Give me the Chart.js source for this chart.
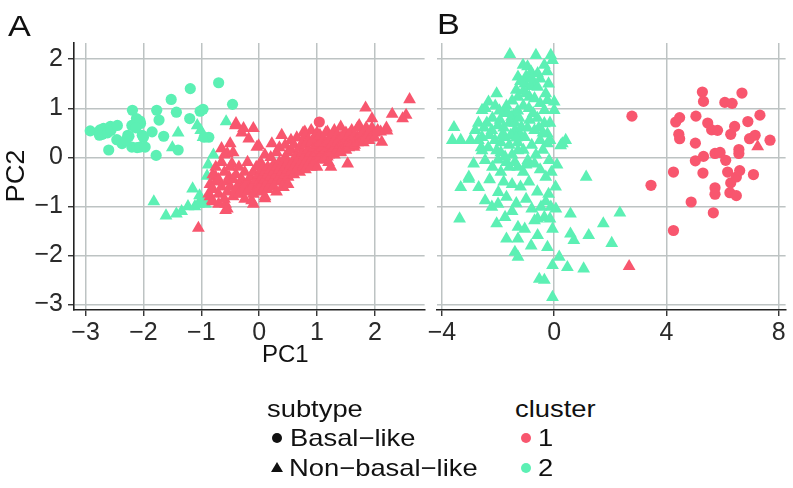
<!DOCTYPE html>
<html><head><meta charset="utf-8">
<script src="https://cdn.jsdelivr.net/npm/chart.js@4/dist/chart.umd.min.js"></script>
<style>
body{margin:0;background:#fff;width:793px;height:488px;overflow:hidden;position:relative;font-family:'Liberation Sans',Arial,sans-serif;color:#111}
canvas{position:absolute;top:0}
#ca{left:0;width:432px;height:345px}
#cb{left:420px;width:373px;height:345px}
.t{position:absolute;white-space:nowrap;line-height:1;transform-origin:0 50%;transform:scaleX(1.14)}
.dot{position:absolute;width:10px;height:10px;border-radius:50%}
.tri{position:absolute;width:0;height:0;border-left:6px solid transparent;border-right:6px solid transparent;border-bottom:10px solid #111}
</style></head><body>
<canvas id="ca" width="432" height="345"></canvas>
<canvas id="cb" width="373" height="345"></canvas>

<div class="t" style="left:8px;top:11px;font-size:30px">A</div>
<div class="t" style="left:437px;top:9px;font-size:30px">B</div>
<div class="t" style="left:262px;top:342px;font-size:24px;transform:none">PC1</div>
<div style="position:absolute;left:15px;top:176px;font-size:26px;line-height:1;white-space:nowrap;transform:translate(-50%,-50%) rotate(-90deg) scaleX(1.05)">PC2</div>

<div class="t" style="left:267px;top:397px;font-size:24px">subtype</div>
<div class="dot" style="left:272px;top:433px;background:#111"></div>
<div class="t" style="left:290px;top:426px;font-size:24px">Basal−like</div>
<div class="tri" style="left:271px;top:462px"></div>
<div class="t" style="left:289px;top:456px;font-size:24px">Non−basal−like</div>
<div class="t" style="left:515px;top:397px;font-size:24px">cluster</div>
<div class="dot" style="left:521px;top:433px;background:#F8566E"></div>
<div class="t" style="left:538px;top:426px;font-size:24px">1</div>
<div class="dot" style="left:521px;top:463px;background:#5CF0B4"></div>
<div class="t" style="left:538px;top:456px;font-size:24px">2</div>

<script>
// ---- tick values ----
const yTicks = [-3, -2, -1, 0, 1, 2];
const xTicksA = [-3, -2, -1, 0, 1, 2];
const xTicksB = [-4, 0, 4, 8];

// ---- cluster colours ----
const cluster1Color = '#F8566E';
const cluster2Color = '#5CF0B4';

// ---- Panel A data: [PC1, PC2] ----
const aBasalC2 = [[-2.92,0.54],[-2.75,0.56],[-2.76,0.45],[-2.69,0.59],[-2.71,0.47],[-2.62,0.50],[-2.57,0.63],[-2.56,0.55],[-2.45,0.65],[-2.46,0.36],[-2.6,0.15],[-2.37,0.28],[-2.27,0.45],[-2.25,0.43],[-2.19,0.96],[-2.2,0.65],[-2.12,0.79],[-2.2,0.21],[-2.11,0.2],[-2.06,0.21],[-2.05,0.69],[-2.06,0.74],[-2.02,0.45],[-2.0,0.41],[-1.97,0.21],[-1.85,0.52],[-1.78,0.04],[-1.77,0.96],[-1.73,0.76],[-1.65,0.43],[-1.52,1.18],[-1.43,0.92],[-1.4,0.15],[-1.19,1.40],[-1.2,0.79],[-1.02,0.94],[-0.97,0.98],[-0.95,0.41],[-0.87,0.41],[-0.70,1.52],[-0.46,1.08],[-2.13,0.6],[-2.3,0.35]];
const aNonBasalC2 = [[-1.40,0.50],[-1.50,0.20],[-1.07,0.65],[-1.01,0.55],[-0.97,0.41],[-0.57,0.73],[-0.79,0.05],[-0.88,-0.15],[-0.90,-0.38],[-1.15,-0.64],[-1.03,-0.78],[-1.0,-0.88],[-0.94,-0.88],[-1.11,-1.0],[-1.23,-1.0],[-1.34,-1.1],[-1.43,-1.15],[-1.61,-1.19],[-1.82,-0.9],[-0.93,-0.95],[-1.05,-0.95]];
const aBasalC1 = [[1.04,0.72]];
const aNonBasalC1 = [
 [-1.05,-1.44],[-0.81,-0.88],[-0.87,-0.74],[-0.75,-0.40],[-0.58,-1.08],[-0.58,-0.95],[-0.52,-0.40],[-0.65,0.18],[-0.50,0.28],[-0.40,0.69],[-0.27,0.59],[-0.10,0.59],[-0.13,-0.88],[-0.10,-0.95],[0.10,-0.84],[-0.35,-0.74],[-0.21,-0.54],[-0.47,-0.13],[-0.55,0.08],[0.04,-0.13],[0.22,0.28],[0.39,0.45],[-0.04,0.21],[0.76,0.50],[0.90,0.55],[1.41,0.62],[1.73,0.65],[1.84,1.01],[1.95,0.79],[2.30,0.88],[2.60,1.18],[2.54,0.86],[2.48,0.79],[2.10,0.52],[2.21,0.54],[2.12,0.31],[1.18,0.52],[0.79,0.52],[-0.41,0.65],[-0.18,0.38],[-0.01,0.24],[0.42,-0.61],[0.62,-0.27],[0.90,-0.06],[1.18,0.01],[1.41,0.11],[1.64,0.21],[1.87,0.35],[1.53,-0.13],[1.24,-0.20],
 [-0.85,-0.55],[-0.85,-0.8],[-0.8,-0.35],[-0.8,-0.65],[-0.8,-0.9],[-0.75,-0.2],[-0.75,-0.5],[-0.7,-0.45],[-0.7,-0.75],[-0.7,-0.95],[-0.65,-0.1],[-0.65,-0.6],[-0.6,-0.3],[-0.6,-0.85],[-0.6,0.05],[-0.55,-0.5],[-0.55,-0.7],[-0.55,-1.05],[-0.5,-0.2],[-0.5,-0.6],[-0.45,-0.45],[-0.45,-0.8],[-0.45,0.1],[-0.4,-0.35],[-0.4,-0.65],[-0.35,-0.55],[-0.35,-0.75],[-0.35,-0.2],[-0.3,-0.45],[-0.3,-0.65],[-0.3,0.5],[-0.25,-0.3],[-0.25,-0.6],[-0.25,-0.85],[-0.2,-0.5],[-0.2,-0.7],[-0.2,-0.1],[-0.15,-0.4],[-0.15,-0.6],[-0.1,-0.3],[-0.1,-0.55],[-0.1,-0.75],[-0.05,-0.45],[-0.05,-0.2],[-0.05,-0.65],
 [0.0,-0.35],[0.0,-0.5],[0.0,-0.6],[0.0,-0.15],[0.05,-0.4],[0.05,-0.55],[0.05,-0.25],[0.05,-0.7],[0.1,-0.3],[0.1,-0.45],[0.1,-0.6],[0.1,-0.8],[0.1,0.05],[0.15,-0.35],[0.15,-0.5],[0.15,-0.2],[0.15,-0.65],[0.2,-0.25],[0.2,-0.4],[0.2,-0.55],[0.2,0.0],[0.25,-0.3],[0.25,-0.45],[0.25,-0.15],[0.25,-0.6],[0.3,-0.2],[0.3,-0.35],[0.3,-0.5],[0.3,0.1],[0.3,-0.7],[0.35,-0.25],[0.35,-0.4],[0.35,-0.1],[0.35,0.2],[0.4,-0.15],[0.4,-0.3],[0.4,-0.45],[0.4,-0.6],[0.45,-0.2],[0.45,-0.35],[0.45,0.0],[0.45,0.25],[0.5,-0.1],[0.5,-0.25],[0.5,-0.4],[0.5,0.1],[0.5,-0.55],
 [0.55,-0.15],[0.55,-0.3],[0.55,0.15],[0.55,0.35],[0.6,-0.05],[0.6,-0.2],[0.6,-0.35],[0.6,0.25],[0.65,-0.1],[0.65,-0.25],[0.65,0.05],[0.65,0.4],[0.7,0.0],[0.7,-0.15],[0.7,-0.3],[0.7,0.2],[0.75,-0.05],[0.75,-0.2],[0.75,0.1],[0.75,0.3],[0.8,0.05],[0.8,-0.1],[0.8,-0.25],[0.8,0.25],[0.8,0.45],[0.85,0.0],[0.85,-0.15],[0.85,0.15],[0.85,0.35],[0.9,0.1],[0.9,-0.05],[0.9,-0.2],[0.9,0.3],[0.95,0.05],[0.95,-0.1],[0.95,0.2],[0.95,0.4],[1.0,0.1],[1.0,-0.05],[1.0,0.25],[1.0,-0.2],[1.0,0.5],
 [1.05,0.15],[1.05,0.0],[1.05,0.3],[1.05,0.45],[1.1,0.1],[1.1,0.2],[1.1,-0.05],[1.1,0.35],[1.15,0.15],[1.15,0.3],[1.15,0.0],[1.15,0.5],[1.2,0.2],[1.2,0.05],[1.2,0.35],[1.2,-0.1],[1.25,0.25],[1.25,0.1],[1.25,0.4],[1.3,0.2],[1.3,0.35],[1.3,0.05],[1.3,0.55],[1.35,0.3],[1.35,0.15],[1.35,0.45],[1.4,0.25],[1.4,0.4],[1.4,0.1],[1.45,0.3],[1.45,0.2],[1.45,0.45],[1.5,0.35],[1.5,0.25],[1.5,0.15],[1.5,0.5],[1.55,0.3],[1.55,0.45],[1.55,0.2],[1.6,0.4],[1.6,0.3],[1.6,0.55],[1.65,0.35],[1.65,0.45],[1.65,0.25],[1.7,0.4],[1.7,0.3],[1.7,0.6],[1.75,0.45],[1.75,0.35],[1.8,0.4],[1.8,0.5],[1.8,0.3],[1.85,0.45],[1.85,0.6],[1.9,0.5],[1.9,0.35],[1.95,0.45],[1.95,0.6],[2.0,0.5],[2.0,0.4],[2.05,0.55],[2.2,0.6]
];

// ---- Panel B data: [PC1, PC2] ----
const bBasalC1 = [[2.77,0.84],[3.45,-0.57],[4.25,-1.49],[4.25,-0.30],[4.33,0.72],[4.47,0.81],[4.44,0.47],[4.47,0.38],[4.88,-0.91],[5.03,0.29],[5.03,-0.07],[5.05,0.84],[5.28,1.33],[5.32,1.14],[5.30,-0.32],[5.32,0.02],[5.47,0.70],[5.61,0.56],[5.67,-1.13],[5.73,0.08],[5.73,-0.62],[5.73,-0.75],[5.82,0.55],[5.91,0.10],[6.08,1.12],[6.11,-0.06],[6.18,-0.30],[6.26,-0.72],[6.29,0.47],[6.29,-0.52],[6.34,1.10],[6.43,0.63],[6.49,-0.40],[6.49,-0.78],[6.58,0.16],[6.58,0.08],[6.61,-0.27],[6.69,1.31],[6.90,0.73],[6.96,0.38],[7.10,-0.35],[7.16,0.45],[7.33,0.86],[7.69,0.35]];
const bNonBasalC1 = [[7.25,0.22],[2.67,-2.22]];
const bNonBasalC2 = [
 [-1.58,2.10],[-0.65,2.08],[-0.12,2.08],[-0.06,1.98],[-0.35,1.88],[-1.11,1.88],[-0.95,1.85],[-1.29,1.64],[-0.82,1.74],[-0.59,1.71],[-1.0,1.65],[-1.05,1.50],[-0.70,1.50],[-0.85,1.45],[-1.35,1.37],[-1.1,1.35],[-0.59,1.43],[-0.2,1.5],[-1.29,1.23],[-0.88,1.23],[-1.0,1.3],[-2.05,1.30],[-2.34,1.13],[-2.57,0.96],[-2.45,1.0],[-0.24,1.16],[0.0,1.13],[-0.35,0.96],[0.0,0.96],[-1.75,0.92],[-1.52,0.82],[-1.93,0.76],
 [-3.57,0.61],[-3.63,0.35],[-3.33,0.35],[-2.81,0.55],[-2.98,0.35],[-2.57,0.41],[-2.22,0.55],[-2.11,0.35],[-1.75,0.41],[-1.40,0.55],[-1.17,0.62],[-0.88,0.76],[-1.05,0.41],[-0.70,0.55],[-0.35,0.69],[-0.24,0.48],[-0.24,0.28],[0.29,0.28],[0.41,0.35],[0.23,0.24],
 [-2.4,0.7],[-2.2,0.8],[-2.0,0.65],[-1.8,0.6],[-1.6,0.7],[-1.45,0.85],[-1.3,0.95],[-1.1,1.05],[-0.9,1.0],[-0.75,0.9],[-1.95,0.95],[-1.7,1.05],[-1.5,1.15],[-2.3,0.45],[-1.9,0.3],[-1.6,0.25],[-1.3,0.3],[-1.2,0.45],[-1.55,0.45],[-2.7,0.7],[-2.6,0.2],[-2.35,0.2],[-1.9,0.1],[-1.5,0.05],[-1.1,0.15],[-0.8,0.25],[-0.5,0.35],[-0.55,0.6],[-0.5,1.1],[-0.3,1.3],[-0.7,1.2],
 [-1.4,0.7],[-1.25,0.8],[-1.65,0.9],[-2.1,1.05],[-2.5,0.6],[-1.85,0.45],[-1.35,0.4],[-0.95,0.6],[-0.6,0.8],[-0.4,0.5],[-0.15,0.7],[-0.15,0.35],[-0.4,0.15],[-0.65,0.05],[-1.0,-0.15],[-1.3,-0.2],[-1.7,-0.1],[-2.0,-0.05],[-2.7,0.35],[-0.8,1.6],[-0.5,1.6],[-1.2,1.55],[-0.25,1.75],
 [-2.57,0.14],[-2.87,-0.13],[-2.46,-0.06],[-2.05,0.14],[-1.75,0.01],[-1.29,0.14],[-0.94,-0.06],[-0.70,-0.13],[-0.18,-0.06],[-3.04,-0.40],[-2.2,-0.2],[-1.9,-0.3],[-1.6,-0.2],[-1.4,-0.1],[-1.1,-0.3],[-0.5,-0.25],[-0.3,-0.4],[-0.1,-0.3],[0.1,-0.15],[-2.3,-0.45],[-1.8,-0.5],[-1.5,-0.55],[-1.2,-0.6],[-0.9,-0.5],[-0.6,-0.7],[-0.2,-0.75],[0.05,-0.6],
 [1.14,-0.40],[-3.37,-1.25],[-3.33,-0.61],[-3.04,-0.44],[-2.69,-0.61],[-2.46,-0.88],[-2.22,-1.01],[-2.05,-1.35],[-1.75,-1.22],[-1.70,-1.66],[-1.29,-1.66],[-1.29,-1.42],[-1.40,-1.93],[-1.29,-2.03],[-1.05,-1.46],[-0.82,-1.80],[-0.59,-1.59],[-0.59,-1.25],[-0.35,-1.22],[-0.24,-1.83],[-0.06,-1.46],[-0.12,-1.01],[0.06,-1.05],[0.18,-2.03],[-0.06,-2.20],[0.47,-2.24],[1.05,-2.27],[-0.53,-2.48],[-0.35,-2.50],[-0.06,-2.85],[0.58,-1.15],[0.58,-1.56],[0.70,-1.69],[1.23,-1.59],[1.75,-1.35],[2.05,-1.75],[2.34,-1.13],[-1.99,-0.71],[-1.70,-0.81],[-1.35,-0.94],[-0.70,-1.29],[-0.47,-1.01],[-1.0,-0.85],[-0.3,-0.9],[-0.15,-1.25],[-2.0,-0.95],[-1.5,-1.1],[-0.8,-1.05]
];

// ---- helpers ----
const toXY = arr => arr.map(p => ({x: p[0], y: p[1]}));
const fmt = v => (v < 0 ? '\u2212' + Math.abs(v) : String(v));
const CIRCLE_R = 5.6, TRI_R = 7.4;
function ds(arr, color, shape) {
  return {data: toXY(arr), pointStyle: shape, pointRadius: shape === 'circle' ? CIRCLE_R : TRI_R,
    backgroundColor: color, borderColor: color, borderWidth: 0, pointBorderWidth: 0};
}
const gridColor = '#BDC3C3';
const tickFont = {family: "'Liberation Sans', Arial, sans-serif", size: 25};

function xScale(min, max, ticks) {
  return {type: 'linear', min, max,
    afterBuildTicks: s => { s.ticks = ticks.map(v => ({value: v})); },
    afterFit: s => { s.height = 35; },
    grid: {color: gridColor, lineWidth: 1.5, tickColor: '#222', tickLength: 6, tickWidth: 1.3},
    border: {display: true, color: '#222', width: 1.6},
    ticks: {font: tickFont, color: '#2a2a2a', padding: 2, maxRotation: 0, autoSkip: false, callback: fmt}};
}
function yScale(showAxis) {
  return {type: 'linear', min: -3.11, max: 2.33,
    afterBuildTicks: s => { s.ticks = yTicks.map(v => ({value: v})); },
    afterFit: s => { s.width = showAxis ? 74 : 0; },
    grid: {color: gridColor, lineWidth: 1.5, tickColor: '#222', tickLength: 6, tickWidth: 1.3, drawTicks: showAxis},
    border: {display: showAxis, color: '#222', width: 1.6},
    ticks: {display: showAxis, font: tickFont, color: '#2a2a2a', padding: 5, autoSkip: false, callback: fmt}};
}
const common = {responsive: false, animation: false, events: [],
  plugins: {legend: {display: false}, tooltip: {enabled: false}}};

new Chart(document.getElementById('ca'), {
  type: 'scatter',
  data: {datasets: [
    ds(aBasalC1, cluster1Color, 'circle'),
    ds(aNonBasalC1, cluster1Color, 'triangle'),
    ds(aNonBasalC2, cluster2Color, 'triangle'),
    ds(aBasalC2, cluster2Color, 'circle')
  ]},
  options: Object.assign({}, common, {
    layout: {padding: {left: 0, right: 4, top: 43, bottom: 0}},
    scales: {x: xScale(-3.2, 2.86, xTicksA), y: yScale(true)}
  })
});

new Chart(document.getElementById('cb'), {
  type: 'scatter',
  data: {datasets: [
    ds(bNonBasalC1, cluster1Color, 'triangle'),
    ds(bBasalC1, cluster1Color, 'circle'),
    ds(bNonBasalC2, cluster2Color, 'triangle')
  ]},
  options: Object.assign({}, common, {
    layout: {padding: {left: 17, right: 1, top: 43, bottom: 0}},
    scales: {x: xScale(-4.175, 8.245, xTicksB), y: yScale(false)}
  })
});
</script>
</body></html>
